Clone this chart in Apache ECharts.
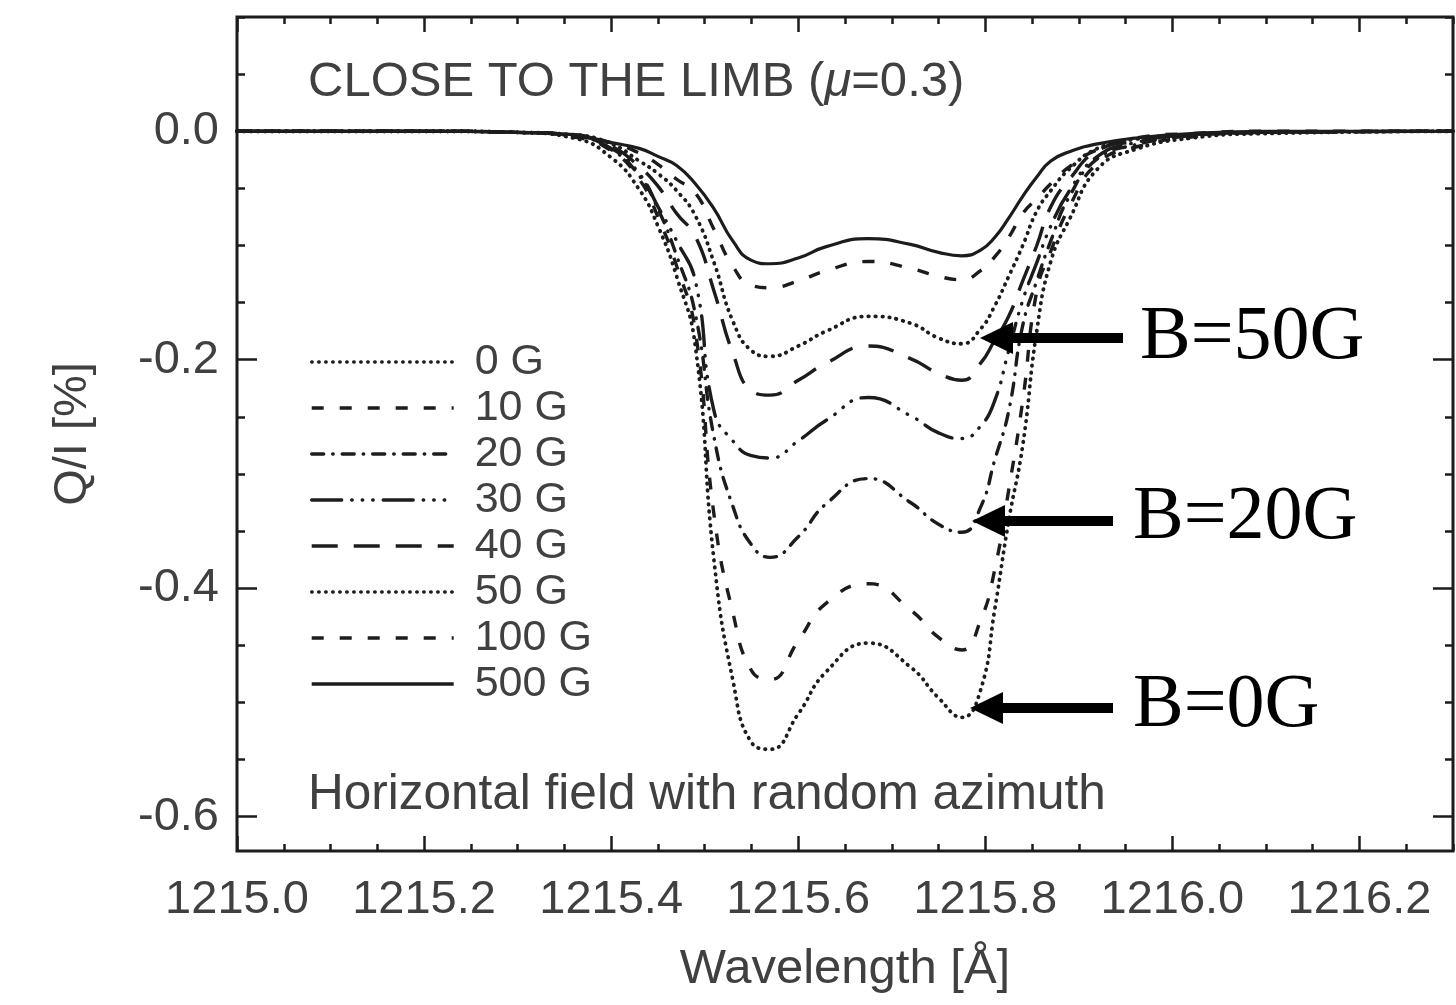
<!DOCTYPE html>
<html>
<head>
<meta charset="utf-8">
<script src="https://cdn.jsdelivr.net/npm/echarts@6/dist/echarts.min.js"></script>
<style>
  html, body { margin: 0; padding: 0; background: #ffffff; }
  #chart { width: 1456px; height: 1005px; }
</style>
</head>
<body>
<div id="chart"></div>
<script>
// Wavelength grid (Angstrom) shared by all profiles
const wavelength = [1215.00, 1215.20, 1215.30, 1215.36, 1215.40, 1215.43, 1215.45, 1215.47, 1215.49, 1215.51,
                    1215.53, 1215.55, 1215.57, 1215.60, 1215.63, 1215.675, 1215.72, 1215.75, 1215.775, 1215.795,
                    1215.81, 1215.825, 1215.84, 1215.855, 1215.87, 1215.89, 1215.92, 1215.96, 1216.02, 1216.10, 1216.30];

// Q/I [%] profiles for each field strength
const qB0   = [0, 0, -0.001, -0.006, -0.023, -0.051, -0.083, -0.127, -0.188, -0.376, -0.480, -0.535, -0.541, -0.510, -0.473, -0.448,
               -0.469, -0.496, -0.513, -0.489, -0.419, -0.341, -0.275, -0.175, -0.114, -0.077, -0.033, -0.016, -0.006, -0.002, 0];
const qB10  = [0, 0, -0.001, -0.005, -0.017, -0.042, -0.075, -0.118, -0.175, -0.336, -0.421, -0.472, -0.480, -0.446, -0.413, -0.396,
               -0.419, -0.443, -0.454, -0.428, -0.384, -0.314, -0.236, -0.140, -0.105, -0.066, -0.028, -0.014, -0.005, -0.001, 0];
const qB20  = [0, 0, -0.001, -0.004, -0.016, -0.039, -0.068, -0.109, -0.160, -0.268, -0.328, -0.362, -0.373, -0.355, -0.326, -0.304,
               -0.325, -0.344, -0.351, -0.329, -0.288, -0.245, -0.170, -0.131, -0.096, -0.057, -0.024, -0.012, -0.004, -0.001, 0];
const qB30  = [0, 0, -0.001, -0.004, -0.015, -0.037, -0.066, -0.096, -0.131, -0.245, -0.271, -0.284, -0.286, -0.271, -0.253, -0.233,
               -0.249, -0.264, -0.269, -0.258, -0.236, -0.192, -0.148, -0.115, -0.083, -0.052, -0.022, -0.010, -0.003, -0.001, 0];
const qB40  = [0, 0, -0.001, -0.004, -0.013, -0.031, -0.048, -0.072, -0.092, -0.140, -0.194, -0.227, -0.231, -0.218, -0.203, -0.188,
               -0.199, -0.212, -0.218, -0.203, -0.183, -0.162, -0.131, -0.100, -0.066, -0.042, -0.017, -0.009, -0.003, -0.001, 0];
const qB50  = [0, 0, -0.001, -0.003, -0.011, -0.026, -0.037, -0.052, -0.074, -0.115, -0.166, -0.192, -0.197, -0.188, -0.175, -0.162,
               -0.168, -0.181, -0.186, -0.173, -0.153, -0.127, -0.100, -0.070, -0.052, -0.033, -0.015, -0.007, -0.003, -0.001, 0];
const qB100 = [0, 0, -0.001, -0.003, -0.010, -0.019, -0.029, -0.042, -0.054, -0.086, -0.118, -0.135, -0.137, -0.131, -0.122, -0.114,
               -0.120, -0.127, -0.130, -0.122, -0.110, -0.093, -0.072, -0.059, -0.046, -0.031, -0.016, -0.006, -0.002, 0, 0];
const qB500 = [0, 0, -0.001, -0.003, -0.010, -0.015, -0.022, -0.030, -0.046, -0.068, -0.096, -0.113, -0.116, -0.111, -0.101, -0.094,
               -0.099, -0.106, -0.109, -0.104, -0.093, -0.076, -0.057, -0.040, -0.026, -0.018, -0.011, -0.006, -0.002, 0, 0];

const fieldLabels = ['0 G', '10 G', '20 G', '30 G', '40 G', '50 G', '100 G', '500 G'];
const profiles = [qB0, qB10, qB20, qB30, qB40, qB50, qB100, qB500];

// Axis tick labels
const xTickLabels = [1215.0, 1215.2, 1215.4, 1215.6, 1215.8, 1216.0, 1216.2];
const yTickLabels = [0.0, -0.2, -0.4, -0.6];

const INK = '#1c1c1c';
const TXT = '#404040';
const FONT = '"Liberation Sans", Arial, Helvetica, sans-serif';

const X_MIN = 1215.0, X_MAX = 1216.3;
const Y_MIN = -0.63, Y_MAX = 0.1;

// Line patterns: dotted, dashed, dash-dot, dash-dot-dot-dot, long dash, dotted, dashed, solid
const DOT = { type: [0.5, 6.5], width: 3.8, cap: 'round' };
const DASH = { type: [12, 16], width: 3.4, cap: 'butt' };
const patterns = [
  DOT,
  DASH,
  { type: [12, 9, 0.5, 9], width: 3.4, cap: 'round' },
  { type: [30, 10, 0.5, 10, 0.5, 10, 0.5, 10], width: 3.4, cap: 'round' },
  { type: [26, 16], width: 3.4, cap: 'butt' },
  DOT,
  DASH,
  { type: 'solid', width: 3.2, cap: 'butt' }
];

function stepValues(start, end, step) {
  const out = [];
  const n = Math.round((end - start) / step);
  for (let i = 0; i <= n; i++) out.push(+(start + i * step).toFixed(4));
  return out;
}
const xMinor = stepValues(1215.0, 1216.3, 0.05);
const yMinor = stepValues(-0.6, 0.1, 0.05);

function xAxisDef(position, ticks, len, withLabels) {
  const ax = {
    type: 'value', position: position, min: X_MIN, max: X_MAX,
    axisLine: { show: false, onZero: false }, splitLine: { show: false },
    axisTick: { show: true, inside: true, length: len, customValues: ticks,
                lineStyle: { color: INK, width: 2.5 } },
    axisLabel: { show: false }
  };
  if (withLabels) {
    ax.axisLabel = { show: true, customValues: ticks, margin: 26,
                     formatter: v => v.toFixed(1),
                     fontFamily: FONT, fontSize: 47, color: TXT };
    ax.name = 'Wavelength [Å]';
    ax.nameLocation = 'middle';
    ax.nameGap = 94;
    ax.nameTextStyle = { fontFamily: FONT, fontSize: 49, color: TXT };
  }
  return ax;
}

function yAxisDef(position, ticks, len, withLabels) {
  const ax = {
    type: 'value', position: position, min: Y_MIN, max: Y_MAX,
    axisLine: { show: false, onZero: false }, splitLine: { show: false },
    axisTick: { show: true, inside: true, length: len, customValues: ticks,
                lineStyle: { color: INK, width: 2.5 } },
    axisLabel: { show: false }
  };
  if (withLabels) {
    ax.axisLabel = { show: true, customValues: ticks, margin: 18,
                     formatter: v => v.toFixed(1),
                     fontFamily: FONT, fontSize: 47, color: TXT };
    ax.name = 'Q/I [%]';
    ax.nameLocation = 'middle';
    ax.nameGap = 140;
    ax.nameTextStyle = { fontFamily: FONT, fontSize: 47, color: TXT };
  }
  return ax;
}

const series = fieldLabels.map((label, k) => ({
  name: label,
  type: 'line',
  xAxisIndex: 0,
  yAxisIndex: 0,
  data: wavelength.map((x, i) => [x, profiles[k][i]]),
  symbol: 'none',
  smooth: 0.5,
  lineStyle: Object.assign({ color: INK }, patterns[k]),
  itemStyle: { color: INK },
  z: 2 + k
}));

// Arrow shape: tip point, back of the head and end of the shaft
function arrow(tipX, y, backX, endX) {
  return {
    type: 'polygon',
    shape: { points: [[tipX, y], [backX, y - 16], [backX, y - 5], [endX, y - 5],
                      [endX, y + 5], [backX, y + 5], [backX, y + 16]] },
    style: { fill: '#000000' },
    z: 20
  };
}

function label(text, x, y) {
  return {
    type: 'text', z: 20,
    style: { text: text, x: x, y: y, verticalAlign: 'middle', align: 'left',
             font: '76px "Liberation Serif", "Times New Roman", serif', fill: '#000000' }
  };
}

const chart = echarts.init(document.getElementById('chart'), null, { renderer: 'canvas' });
chart.setOption({
  backgroundColor: '#ffffff',
  animation: false,
  grid: { left: 237, right: 3, top: 17, bottom: 154, show: true,
          borderColor: INK, borderWidth: 3, backgroundColor: 'transparent' },
  xAxis: [
    xAxisDef('bottom', xTickLabels, 15, true),
    xAxisDef('bottom', xMinor, 7, false),
    xAxisDef('top', xTickLabels, 15, false),
    xAxisDef('top', xMinor, 7, false)
  ],
  yAxis: [
    yAxisDef('left', yTickLabels, 20, true),
    yAxisDef('left', yMinor, 8, false),
    yAxisDef('right', yTickLabels, 20, false),
    yAxisDef('right', yMinor, 8, false)
  ],
  legend: {
    orient: 'vertical', left: 305, top: 334,
    itemWidth: 142, itemHeight: 14, itemGap: 0,
    selectedMode: false,
    data: fieldLabels,
    itemStyle: { color: 'transparent', borderWidth: 0, opacity: 0 },
    lineStyle: { width: 3.4 },
    textStyle: { fontFamily: FONT, fontSize: 43, color: TXT, lineHeight: 46, padding: [0, 0, 0, 16] }
  },
  series: series,
  graphic: [
    {
      type: 'text', z: 20,
      style: {
        x: 308, y: 82, verticalAlign: 'middle',
        text: '{a|CLOSE TO THE LIMB (}{m|μ}{a|=0.3)}',
        rich: {
          a: { fontFamily: FONT, fontSize: 49, fill: TXT, color: TXT },
          m: { fontFamily: FONT, fontSize: 49, fontStyle: 'italic', fill: TXT, color: TXT }
        }
      }
    },
    {
      type: 'text', z: 20,
      style: { x: 308, y: 795, verticalAlign: 'middle', text: 'Horizontal field with random azimuth',
               font: '49.5px "Liberation Sans", Arial, sans-serif', fill: TXT }
    },
    arrow(980, 338, 1013, 1123),
    arrow(972, 521, 1005, 1113),
    arrow(970, 708, 1003, 1113),
    label('B=50G', 1140, 338),
    label('B=20G', 1133, 518),
    label('B=0G', 1133, 706)
  ]
});
</script>
</body>
</html>
